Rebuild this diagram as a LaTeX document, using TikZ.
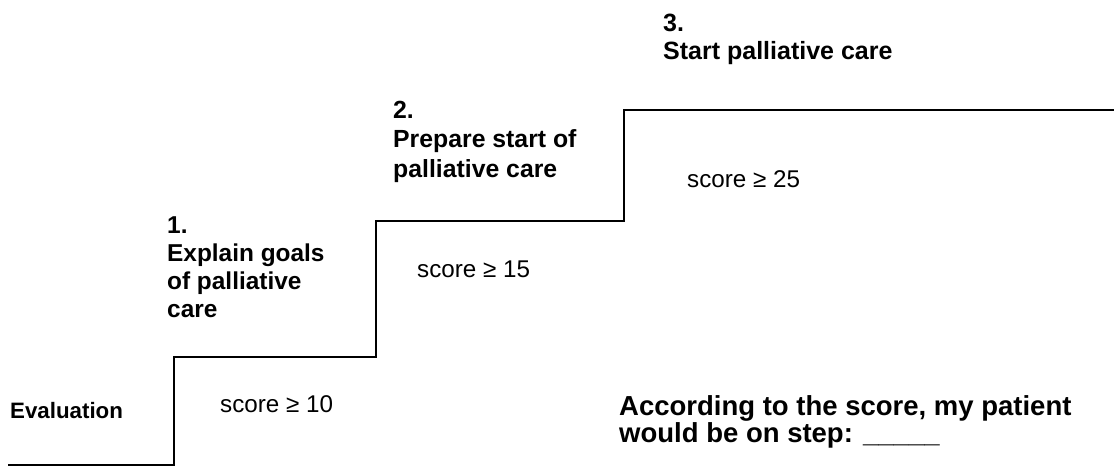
\documentclass[tikz,border=0pt]{standalone}
\usepackage{fontspec}
\setmainfont{Liberation Sans}
\usepackage{tikz}
\usetikzlibrary{positioning}
\tikzset{
        stair/.style={line width=2pt, line join=miter}, % the staircase line
        steptext/.style={font=\bfseries\fontsize{24.4}{28}\selectfont, align=left, anchor=base west, inner sep=0pt}, % text above each step (base = last line)
        scoretext/.style={font=\fontsize{24.2}{28}\selectfont, anchor=base west, inner sep=0pt}, % score under each step
}
\def\stairs{(s0) -- (s1) -- (s2) -- (s3) -- (s4) -- (s5) -- (s6) -- (s7)}

\begin{document}
\begin{tikzpicture}[x=1pt, y=1pt]
      \useasboundingbox (0,0) rectangle (1114,467);
      % corners of the stairs
      \coordinate (s0) at (8,2);
      \coordinate (s1) at (174,2);
      \coordinate (s2) at (174,110);
      \coordinate (s3) at (376,110);
      \coordinate (s4) at (376,246);
      \coordinate (s5) at (624,246);
      \coordinate (s6) at (624,357);
      \coordinate (s7) at (1114,357);
      \draw[stair] \stairs;
      \node[steptext, font=\bfseries\fontsize{22.3}{26}\selectfont] (eval) at (10,49) {Evaluation};
      \node[scoretext] (score1) at (220,55) {score ≥ 10};
      \node[scoretext] (score2) at (417,190) {score ≥ 15};
      \node[scoretext] (score3) at (687,280) {score ≥ 25};
      \node[steptext] (step1) at (167,150) {1.\\Explain goals\\of palliative\\care};
      \node[steptext, font=\bfseries\fontsize{24.8}{29.5}\selectfont] (step2) at (393,290) {2.\\Prepare start of\\palliative care};
      \node[steptext, font=\bfseries\fontsize{25}{28}\selectfont] (step3) at (663,407) {3.\\Start palliative care};
      \node[steptext, font=\bfseries\fontsize{27.5}{27}\selectfont] (question) at (619,25) {According to the score, my patient\\would be on step: \_\_\_\_\_};
\end{tikzpicture}
\end{document}
